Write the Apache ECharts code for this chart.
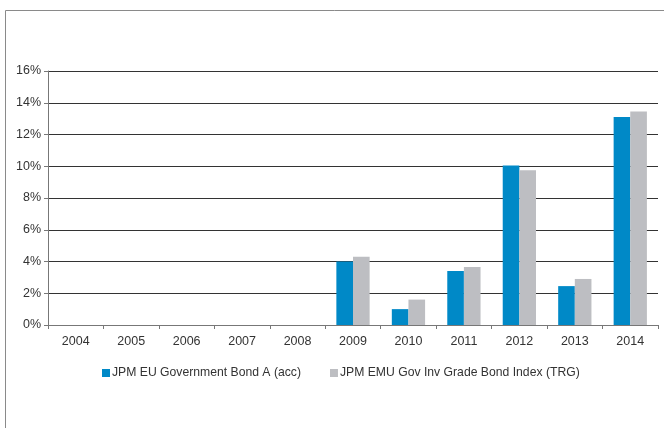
<!DOCTYPE html>
<html>
<head>
<meta charset="utf-8">
<script src="https://cdn.jsdelivr.net/npm/echarts@6/dist/echarts.min.js"></script>
<style>
  html, body { margin: 0; padding: 0; background: #fff; }
  #chart { width: 664px; height: 428px; }
</style>
</head>
<body>
<div id="chart"></div>
<script>
// years on the x axis
var years = ["2004", "2005", "2006", "2007", "2008", "2009", "2010", "2011", "2012", "2013", "2014"];
// yearly returns in %, no data before 2009
var fundReturns = [null, null, null, null, null, 4.0, 1.0, 3.4, 10.05, 2.45, 13.1];
var indexReturns = [null, null, null, null, null, 4.3, 1.6, 3.65, 9.75, 2.9, 13.45];
var seriesNames = ["JPM EU Government Bond A (acc)", "JPM EMU Gov Inv Grade Bond Index (TRG)"];

var blue = "#0089c7";
var grey = "#bdbec2";
var font = "Liberation Sans";

var chart = echarts.init(document.getElementById("chart"));

var option = {
  animation: false,
  textStyle: { fontFamily: font },
  // outer frame (left and top edge only)
  graphic: [
    {
      type: "polyline",
      silent: true,
      shape: { points: [[5.5, 428], [5.5, 10.5], [664, 10.5]] },
      style: { stroke: "#8a8a8a", lineWidth: 1, fill: null }
    }
  ],
  grid: {
    left: 48,
    right: 6,
    top: 71,
    bottom: 103
  },
  legend: {
    top: 362,
    left: 97,
    icon: "rect",
    itemWidth: 8,
    itemHeight: 8,
    itemGap: 29,
    textStyle: { color: "#333", fontSize: 12.2, fontFamily: font, padding: [0, 0, 0, -3] },
    data: seriesNames
  },
  xAxis: {
    type: "category",
    data: years,
    axisLine: { lineStyle: { color: "#777", width: 1 } },
    axisTick: { show: true, length: 4, lineStyle: { color: "#777" } },
    axisLabel: { color: "#333", fontSize: 12.5, margin: 10 }
  },
  yAxis: {
    type: "value",
    min: 0,
    max: 16,
    interval: 2,
    axisLine: { show: true, lineStyle: { color: "#777", width: 1 } },
    axisTick: { show: true, length: 4, lineStyle: { color: "#777" } },
    axisLabel: {
      color: "#333",
      fontSize: 12.5,
      margin: 7,
      formatter: function (v) { return v + "%"; }
    },
    splitLine: { show: true, lineStyle: { color: "#333", width: 1 } }
  },
  series: [
    {
      name: seriesNames[0],
      type: "bar",
      data: fundReturns,
      barWidth: "30%",
      barGap: "0%",
      itemStyle: { color: blue }
    },
    {
      name: seriesNames[1],
      type: "bar",
      data: indexReturns,
      barWidth: "30%",
      itemStyle: { color: grey }
    }
  ]
};

chart.setOption(option);
</script>
</body>
</html>
